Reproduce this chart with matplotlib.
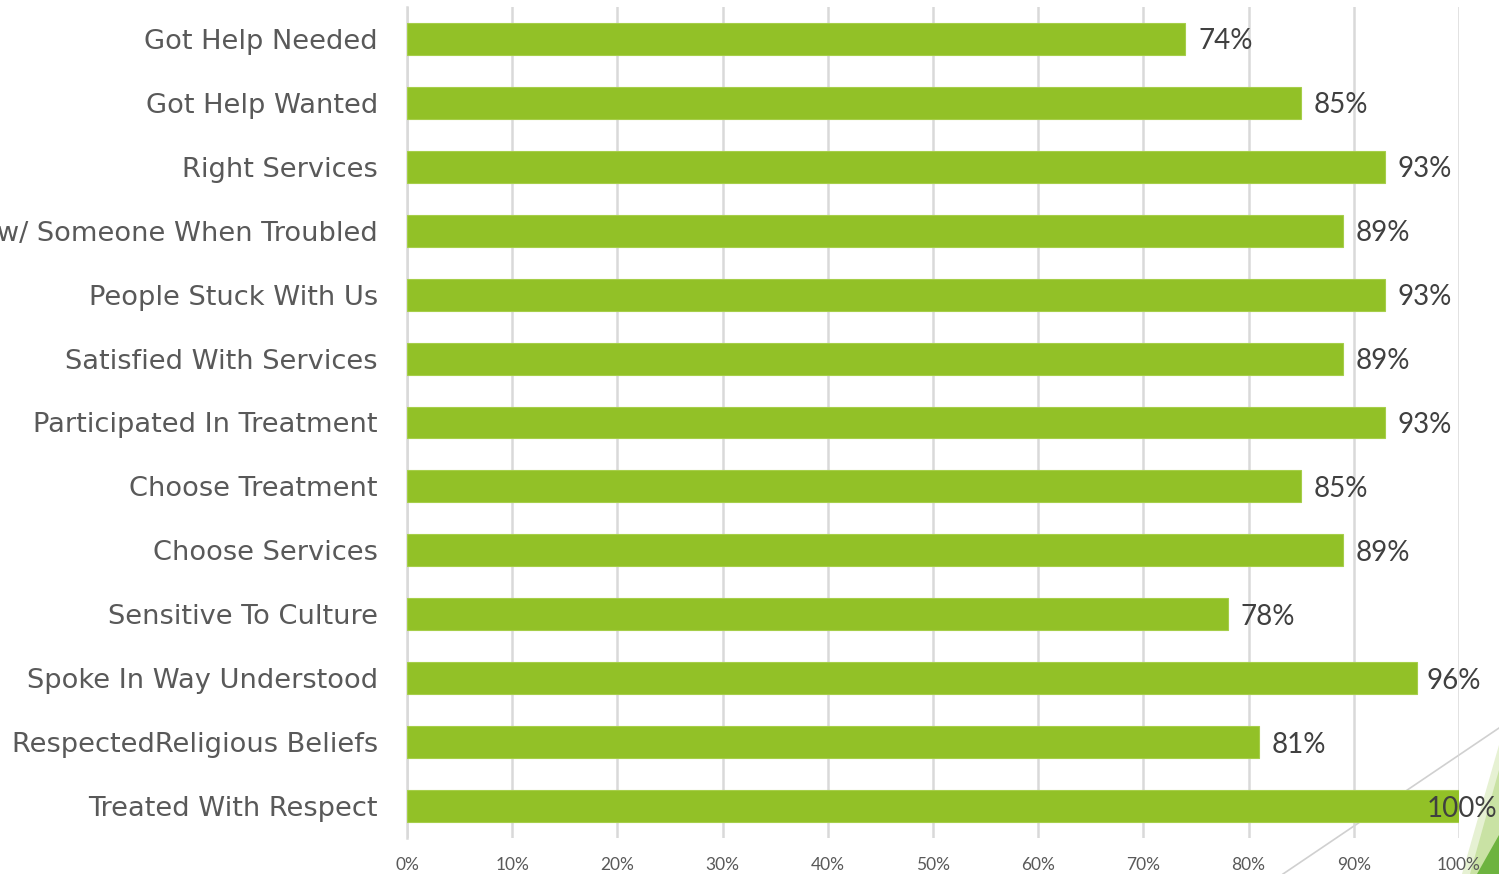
import matplotlib
matplotlib.use("Agg")
import matplotlib.pyplot as plt
from matplotlib.patches import Polygon
from matplotlib.lines import Line2D

categories = [
    "Got Help Needed",
    "Got Help Wanted",
    "Right Services",
    "Talk w/ Someone When Troubled",
    "People Stuck With Us",
    "Satisfied With Services",
    "Participated In Treatment",
    "Choose Treatment",
    "Choose Services",
    "Sensitive To Culture",
    "Spoke In Way Understood",
    "RespectedReligious Beliefs",
    "Treated With Respect",
]
values = [74, 85, 93, 89, 93, 89, 93, 85, 89, 78, 96, 81, 100]
xticks = [0, 10, 20, 30, 40, 50, 60, 70, 80, 90, 100]
xtick_labels = [f"{t}%" for t in xticks]

BAR = "#92C127"
GRID = "#D9D9D9"
LABEL = "#595959"
VALUE = "#404040"

fig = plt.figure(figsize=(14.99, 8.74), dpi=100)
ax = fig.add_axes([407 / 1499, 1 - 838 / 874, 1052 / 1499, 831 / 874])
ax.patch.set_visible(False)

ypos = list(range(len(categories)))
ax.barh(ypos, values, height=0.5, color=BAR, edgecolor="#A6CE4A",
        linewidth=0.8, zorder=3)

ax.set_xlim(0, 100)
ax.set_ylim(len(categories) - 0.5, -0.5)
ax.set_xticks(xticks)
ax.set_xticklabels(xtick_labels, fontsize=12.5, color=LABEL, family="Lato")
ax.set_yticks(ypos)
ax.set_yticklabels(categories, fontsize=19.6, color=LABEL, family="DejaVu Sans")
for lbl in ax.get_yticklabels():
    lbl.set_verticalalignment("center_baseline")
ax.tick_params(axis="y", length=0, pad=21)
ax.tick_params(axis="x", length=0, pad=14)

ax.grid(axis="x", color=GRID, linewidth=1.8, zorder=0)
for side in ("top", "right", "bottom"):
    ax.spines[side].set_visible(False)
ax.spines["left"].set_color(GRID)
ax.spines["left"].set_linewidth(1.8)

for y, v in zip(ypos, values):
    x = min(v + 1.2, 96.9)
    ax.text(x, y, f"{v}%", va="center_baseline", ha="left", fontsize=20,
            color=VALUE, family="Lato", zorder=5, clip_on=False)

# decorative corner shapes, kept behind the chart
fig.add_artist(Line2D([1283 / 1499, 1.0], [0, 1 - 728 / 874],
                      transform=fig.transFigure, color="#D0D0D0", lw=1.2, zorder=-3))
fig.add_artist(Polygon([(1462 / 1499, 0), (1.0, 1 - 745 / 874), (1.0, 0)],
                       closed=True, transform=fig.transFigure,
                       facecolor="#E6F1D3", edgecolor="none", zorder=-3))
fig.add_artist(Polygon([(1470 / 1499, 0), (1.0, 1 - 770 / 874), (1.0, 0)],
                       closed=True, transform=fig.transFigure,
                       facecolor="#C9E2A4", edgecolor="none", zorder=-2))
fig.add_artist(Polygon([(1477 / 1499, 0), (1.0, 1 - 835 / 874), (1.0, 0)],
                       closed=True, transform=fig.transFigure,
                       facecolor="#6DB33F", edgecolor="none", zorder=-1))

fig.savefig("out.png", dpi=100, facecolor="white")
